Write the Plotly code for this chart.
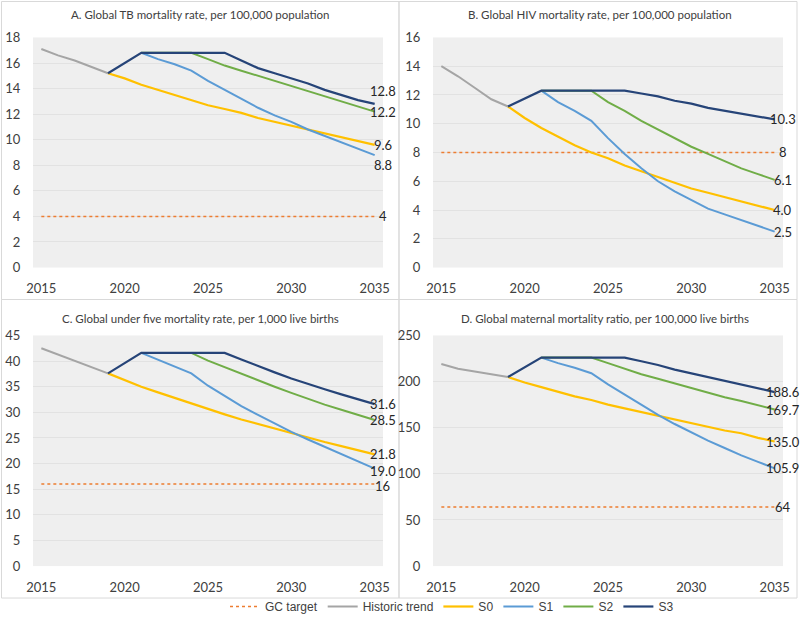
import plotly.graph_objects as go

years = list(range(2015, 2036))

# ---- Panel A: TB mortality ----
tb_hist = [17.1, 16.6, 16.2, 15.7, 15.2]
tb_s0 = [15.2, 14.8, 14.3, 13.9, 13.5, 13.1, 12.7, 12.4, 12.1, 11.7, 11.4, 11.1, 10.8, 10.5, 10.2, 9.9, 9.6]
tb_s1 = [16.8, 16.3, 15.9, 15.4, 14.6, 13.9, 13.2, 12.5, 11.9, 11.4, 10.8, 10.3, 9.8, 9.3, 8.8]
tb_s2 = [16.8, 16.8, 16.8, 16.8, 16.3, 15.8, 15.4, 15.0, 14.6, 14.2, 13.8, 13.4, 13.0, 12.6, 12.2]
tb_s3 = [15.2, 16.0, 16.8, 16.8, 16.8, 16.8, 16.8, 16.8, 16.2, 15.6, 15.2, 14.8, 14.4, 13.9, 13.5, 13.1, 12.8]
tb_target = 4

# ---- Panel B: HIV mortality ----
hiv_hist = [14.0, 13.3, 12.5, 11.7, 11.2]
hiv_s0 = [11.2, 10.4, 9.7, 9.1, 8.5, 8.0, 7.6, 7.1, 6.7, 6.3, 5.9, 5.5, 5.2, 4.9, 4.6, 4.3, 4.0]
hiv_s1 = [12.3, 11.5, 10.9, 10.2, 9.0, 7.9, 6.9, 6.0, 5.3, 4.7, 4.1, 3.7, 3.3, 2.9, 2.5]
hiv_s2 = [12.3, 12.3, 12.3, 12.3, 11.5, 10.9, 10.2, 9.6, 9.0, 8.4, 7.9, 7.4, 6.9, 6.5, 6.1]
hiv_s3 = [11.2, 11.75, 12.3, 12.3, 12.3, 12.3, 12.3, 12.3, 12.1, 11.9, 11.6, 11.4, 11.1, 10.9, 10.7, 10.5, 10.3]
hiv_target = 8

# ---- Panel C: under five mortality ----
u5_hist = [42.5, 41.3, 40.0, 38.8, 37.6]
u5_s0 = [37.6, 36.3, 35.0, 33.9, 32.8, 31.7, 30.6, 29.6, 28.6, 27.7, 26.8, 25.9, 25.0, 24.2, 23.4, 22.6, 21.8]
u5_s1 = [41.6, 40.3, 39.0, 37.6, 35.2, 33.2, 31.2, 29.5, 27.8, 26.2, 24.7, 23.3, 21.8, 20.4, 19.0]
u5_s2 = [41.6, 41.6, 41.6, 41.6, 40.1, 38.8, 37.5, 36.2, 35.0, 33.8, 32.6, 31.5, 30.5, 29.5, 28.5]
u5_s3 = [37.6, 39.6, 41.6, 41.6, 41.6, 41.6, 41.6, 41.6, 40.3, 39.0, 37.8, 36.6, 35.5, 34.5, 33.5, 32.5, 31.6]
u5_target = 16

# ---- Panel D: maternal mortality ratio ----
mm_hist = [219, 214, 211, 208, 205]
mm_s0 = [205, 199, 194, 189, 184, 180, 175, 171, 167, 163, 159, 155, 151, 147, 144, 139, 135.0]
mm_s1 = [226, 220, 215, 209, 197, 186, 175, 164, 154, 145, 136, 128, 120, 113, 105.9]
mm_s2 = [226, 226, 226, 226, 220, 214, 208, 203, 198, 193, 188, 183, 179, 174, 169.7]
mm_s3 = [205, 215.5, 226, 226, 226, 226, 226, 226, 222, 218, 213, 209, 205, 201, 197, 193, 188.6]
mm_target = 64

titles = [
    "A. Global TB mortality rate, per 100,000 population",
    "B. Global HIV mortality rate, per 100,000 population",
    "C. Global under five mortality rate, per 1,000 live births",
    "D. Global maternal mortality ratio, per 100,000 live births",
]
y_max = [18, 16, 45, 250]
y_step = [2, 2, 5, 50]

panels = [
    (tb_hist, tb_s0, tb_s1, tb_s2, tb_s3, tb_target),
    (hiv_hist, hiv_s0, hiv_s1, hiv_s2, hiv_s3, hiv_target),
    (u5_hist, u5_s0, u5_s1, u5_s2, u5_s3, u5_target),
    (mm_hist, mm_s0, mm_s1, mm_s2, mm_s3, mm_target),
]
# label vertical nudges (px) for end labels: S3, S2, S0, S1, target
label_shift = [
    [13, 0, 0, -10, 0],
    [0, 0, 0, 0, 0],
    [0, 0, 0, -2, -2],
    [0, 0, 0, 0, 0],
]

C_TARGET = "#ED7D31"
C_HIST = "#A5A5A5"
C_S0 = "#FFC000"
C_S1 = "#5B9BD5"
C_S2 = "#70AD47"
C_S3 = "#264478"

W, H = 800, 621
def px_x(x):
    return x / W
def px_y(y):
    return 1 - y / H

# plot areas in pixels: (left, right, top, bottom)
areas = [
    (33, 383, 37.5, 268),
    (433, 783, 37.5, 268),
    (33, 383, 336, 567),
    (433, 783, 336, 567),
]
title_pos = [(200, 15), (600, 15), (200, 319), (605, 319)]

fig = go.Figure()
annotations = []
shapes = []

for i, (hist, s0, s1, s2, s3, tgt) in enumerate(panels):
    xa = "x" if i == 0 else f"x{i+1}"
    ya = "y" if i == 0 else f"y{i+1}"
    show = i == 0
    fig.add_trace(go.Scatter(x=years, y=[tgt] * len(years), mode="lines", name="GC target",
                             line=dict(color=C_TARGET, width=1.5, dash="dot"),
                             xaxis=xa, yaxis=ya, showlegend=show, legendgroup="t"))
    fig.add_trace(go.Scatter(x=years[:len(hist)], y=hist, mode="lines", name="Historic trend",
                             line=dict(color=C_HIST, width=2),
                             xaxis=xa, yaxis=ya, showlegend=show, legendgroup="h"))
    fig.add_trace(go.Scatter(x=years[4:], y=s0, mode="lines", name="S0",
                             line=dict(color=C_S0, width=2.2),
                             xaxis=xa, yaxis=ya, showlegend=show, legendgroup="s0"))
    fig.add_trace(go.Scatter(x=years[6:], y=s1, mode="lines", name="S1",
                             line=dict(color=C_S1, width=2),
                             xaxis=xa, yaxis=ya, showlegend=show, legendgroup="s1"))
    fig.add_trace(go.Scatter(x=years[6:], y=s2, mode="lines", name="S2",
                             line=dict(color=C_S2, width=2),
                             xaxis=xa, yaxis=ya, showlegend=show, legendgroup="s2"))
    fig.add_trace(go.Scatter(x=years[4:], y=s3, mode="lines", name="S3",
                             line=dict(color=C_S3, width=2.2),
                             xaxis=xa, yaxis=ya, showlegend=show, legendgroup="s3"))

    l, r, t, b = areas[i]
    axis_x = dict(domain=[px_x(l), px_x(r)], range=[2014.5, 2035.5],
                  tickvals=[2015, 2020, 2025, 2030, 2035], showgrid=False, zeroline=False,
                  showline=False, ticks="outside", ticklen=9, tickcolor="rgba(0,0,0,0)",
                  tickfont=dict(family="Lato", size=13, color="#404040"),
                  anchor=ya, automargin=False)
    axis_y = dict(domain=[px_y(b), px_y(t)], range=[0, y_max[i]],
                  tickvals=list(range(0, y_max[i] + 1, y_step[i])),
                  showgrid=True, gridcolor="#e2e2e2", gridwidth=1, zeroline=False,
                  showline=False, ticks="outside", ticklen=9, tickcolor="rgba(0,0,0,0)",
                  tickfont=dict(family="Lato", size=13, color="#404040"),
                  anchor=xa, automargin=False)
    key = "" if i == 0 else str(i + 1)
    fig.update_layout(**{f"xaxis{key}": axis_x, f"yaxis{key}": axis_y})

    # end labels
    ends = [(s3[-1], f"{s3[-1]:.1f}"), (s2[-1], f"{s2[-1]:.1f}"), (s0[-1], f"{s0[-1]:.1f}"),
            (s1[-1], f"{s1[-1]:.1f}"), (tgt, f"{tgt:g}")]
    for j, (v, txt) in enumerate(ends):
        annotations.append(dict(x=2035, y=v, xref=xa, yref=ya, text=txt, showarrow=False,
                                xanchor="center", yanchor="middle", xshift=8,
                                yshift=label_shift[i][j],
                                font=dict(family="Lato", size=13, color="#262626")))
    tx, ty = title_pos[i]
    annotations.append(dict(x=px_x(tx), y=px_y(ty), xref="paper", yref="paper",
                            text=titles[i], showarrow=False, xanchor="center", yanchor="middle",
                            font=dict(family="Lato", size=11.5, color="#404040")))

# panel borders
for (x0, y0, x1, y1) in [(1.5, 1.5, 399, 300), (399, 1.5, 797, 300),
                         (1.5, 300, 399, 599), (399, 300, 797, 599)]:
    shapes.append(dict(type="rect", xref="paper", yref="paper",
                       x0=px_x(x0), x1=px_x(x1), y0=px_y(y1), y1=px_y(y0),
                       line=dict(color="#d9d9d9", width=1), fillcolor="rgba(0,0,0,0)",
                       layer="below"))

fig.update_layout(
    width=W, height=H, autosize=False,
    margin=dict(l=0, r=0, t=0, b=0, pad=0),
    paper_bgcolor="white", plot_bgcolor="#efefef",
    annotations=annotations, shapes=shapes,
    showlegend=True,
    legend=dict(orientation="h", x=px_x(452), xanchor="center", y=px_y(607), yanchor="middle",
                font=dict(family="Liberation Sans", size=12, color="#404040"),
                bgcolor="rgba(0,0,0,0)", itemwidth=30, tracegroupgap=0),
)

fig.write_html("out.html", config={"displayModeBar": False},
               post_script="document.body.style.margin='0';document.body.style.padding='0';"
                           "document.documentElement.style.overflow='hidden';")
